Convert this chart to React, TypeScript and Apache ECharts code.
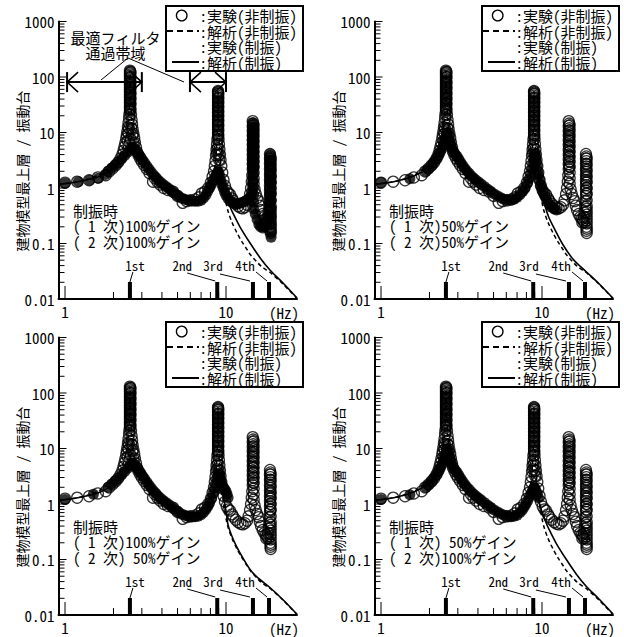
import React, { useEffect, useRef } from "react";
import * as echarts from "echarts";

type P = [number, number];
const col = (f: number, vals: number[]): P[] => vals.map((v) => [f, v] as P);

// ---------- axes ----------
const X_MIN = 0.911;
const X_MAX = 27.6;
const Y_MIN = 0.01;
const Y_MAX = 1000;
const X_TICK_LABELS = ["1", "10"];
const Y_TICK_LABELS = ["0.01", "0.1", "1", "10", "100", "1000"];
const X_MAJOR_TICKS = [1, 10];
const X_MINOR_TICKS = [2, 3, 4, 5, 6, 7, 8, 9];
const Y_MAJOR_TICKS = [0.01, 0.1, 1, 10, 100, 1000];
const Y_MINOR_TICKS = [
  0.02, 0.03, 0.04, 0.05, 0.06, 0.07, 0.08, 0.09,
  0.2, 0.3, 0.4, 0.5, 0.6, 0.7, 0.8, 0.9,
  2, 3, 4, 5, 6, 7, 8, 9,
  20, 30, 40, 50, 60, 70, 80, 90,
  200, 300, 400, 500, 600, 700, 800, 900,
];

// ---------- natural frequencies ----------
const MODE_FREQS = [2.53, 8.82, 14.7, 18.5];
const MODE_LABELS = ["1st", "2nd", "3rd", "4th"];

// ---------- optimal filter pass bands (panel 1) ----------
const BANDS = [
  [1.03, 3.0],
  [5.97, 10.0],
];
const BAND_LEVEL = 81;

// ---------- texts ----------
const LEGEND_LABELS = ["実験(非制振)", "解析(非制振)", "実験(制振)", "解析(制振)"];
const Y_NAME = "建物模型最上層 / 振動台";
const CTRL_TITLE = "制振時";
const GAIN_TEXTS = [
  ["( 1 次)100%ゲイン", "( 2 次)100%ゲイン"],
  ["( 1 次)50%ゲイン", "( 2 次)50%ゲイン"],
  ["( 1 次)100%ゲイン", "( 2 次) 50%ゲイン"],
  ["( 1 次) 50%ゲイン", "( 2 次)100%ゲイン"],
];
const BAND_TEXT = ["最適フィルタ", "通過帯域"];

// ---------- experiment, uncontrolled (open circles) ----------
const UNCTRL_EXP: P[] = [
  [1.0, 1.25], [1.19, 1.3], [1.41, 1.38], [1.6, 1.55], [1.79, 1.7], [1.88, 1.99], [1.97, 2.25],
  [2.06, 2.55], [2.14, 2.9], [2.21, 3.4], [2.27, 4.0], [2.31, 4.7],
  [2.34, 5.5], [2.37, 6.5], [2.4, 7.8], [2.42, 9], [2.44, 10.5], [2.46, 12.5], [2.48, 15], [2.5, 18],
  [2.51, 21], [2.45, 7], [2.48, 9.5], [2.5, 12],
  ...col(2.53, [24, 27, 30, 34, 38, 43, 48, 54, 60, 67, 75, 84, 94, 105, 117, 130]),
  ...col(2.54, [25.5, 28.5, 32, 36, 40.5, 45.5, 51, 57, 63.5, 71, 79.5, 89, 99.5, 111, 124]),
  ...col(2.55, [122, 100, 80, 64, 51, 41, 33, 26]),
  [2.57, 21], [2.59, 17], [2.61, 14], [2.63, 11.5], [2.66, 9.5], [2.69, 8], [2.72, 6.6], [2.76, 5.4],
  [2.8, 4.5], [2.58, 12], [2.62, 9], [2.56, 7.5], [2.66, 6.5],
  [2.86, 3.9], [2.93, 3.4], [3.0, 3.0], [3.1, 2.6], [3.22, 2.2], [3.35, 1.85], [3.52, 1.3], [3.62, 1.5],
  [3.75, 1.3], [3.9, 1.15], [4.1, 1.0], [4.35, 0.92], [4.69, 0.86], [5.0, 0.72], [5.38, 0.54], [5.7, 0.58],
  [6.05, 0.6], [6.45, 0.62], [6.8, 0.68], [7.07, 0.8], [7.4, 0.86], [7.75, 1.0], [8.05, 1.25], [8.25, 1.6],
  [8.42, 2.0], [8.52, 2.5], [8.6, 3.1], [8.67, 3.9], [8.73, 4.9], [8.79, 6.1], [8.84, 7.5], [8.8, 4.2], [8.86, 5.2],
  ...col(8.92, [8.5, 9.8, 11.3, 13, 15, 17.3, 20, 23, 26.5, 30.5, 35, 40, 46, 52, 56]),
  ...col(8.93, [9.1, 10.5, 12.1, 14, 16.1, 18.6, 21.5, 24.7, 28.4, 32.7, 37.5, 43, 49, 54]),
  ...col(8.95, [50, 42, 35, 29, 24, 20, 16.5, 13.5, 11, 9]),
  [8.99, 7.6], [9.04, 6.2], [9.1, 5.0], [9.17, 4.0], [9.25, 3.2], [9.35, 2.5], [9.0, 4.0], [9.06, 3.2],
  [9.48, 1.9], [9.65, 1.4], [9.85, 1.1], [10.1, 0.9], [10.35, 0.8], [10.6, 0.76], [10.9, 0.65], [11.1, 0.59],
  [11.5, 0.52], [11.9, 0.47], [12.3, 0.44], [12.7, 0.43], [13.1, 0.45], [13.5, 0.5], [13.8, 0.6], [14.1, 0.78],
  [14.3, 1.0], [14.45, 1.3], [14.55, 1.7],
  ...col(14.65, [2.2, 2.7, 3.3, 4.0, 4.9, 6.0, 7.3, 8.9, 10.8, 13.1, 16]),
  ...col(14.75, [2.45, 3.0, 3.65, 4.45, 5.4, 6.6, 8.1, 9.8, 11.9, 14.5]),
  ...col(14.85, [13.5, 11, 8.8, 7.1, 5.7, 4.6, 3.7, 3.0, 2.4, 1.9, 1.5, 1.2]),
  [15.05, 0.95], [15.3, 0.78], [15.6, 0.66], [15.95, 0.58], [16.2, 0.48], [16.5, 0.4], [16.9, 0.34], [17.3, 0.3],
  [17.7, 0.28], [18.0, 0.26], [18.2, 0.3], [18.4, 0.36], [17.8, 0.24], [18.3, 0.24], [18.55, 0.45], [18.65, 0.58],
  ...col(18.75, [0.72, 0.9, 1.12, 1.4, 1.75, 2.2, 2.75, 3.4, 4.1]),
  ...col(18.85, [0.8, 1.0, 1.25, 1.55, 1.95, 2.45, 3.05, 3.7]),
  ...col(18.95, [3.4, 2.7, 2.1, 1.65, 1.3, 1.0, 0.78, 0.6, 0.47, 0.37, 0.29, 0.23, 0.185, 0.155]),
  ...col(18.9, [0.42, 0.33, 0.26, 0.2, 0.17]),
];

// ---------- experiment, controlled (filled circles), one per panel ----------
const CTRL_EXP_1: P[] = [
  [1.0, 1.22], [1.21, 1.3], [1.42, 1.38], [1.61, 1.5], [1.78, 1.75], [1.85, 2.0], [1.95, 2.3], [2.05, 2.6],
  [2.15, 2.95], [2.25, 3.35], [2.35, 3.85], [2.45, 4.4], [2.53, 4.9], [2.6, 5.3], [2.66, 5.4], [2.72, 5.0],
  [2.8, 4.5], [2.87, 4.0], [2.95, 3.6], [3.03, 3.2], [3.12, 2.85], [3.22, 2.5], [3.32, 2.2], [3.43, 1.95],
  [3.55, 1.72], [3.67, 1.55], [3.8, 1.38], [3.94, 1.25], [4.08, 1.15], [4.24, 1.06], [4.4, 0.98], [4.57, 0.9],
  [4.75, 0.82], [4.95, 0.75], [5.15, 0.69], [5.35, 0.65], [5.6, 0.62], [5.85, 0.6], [6.1, 0.59], [6.4, 0.58],
  [6.7, 0.58], [7.0, 0.6], [7.25, 0.66], [7.5, 0.75], [7.7, 0.87], [7.9, 1.0], [8.1, 1.15], [8.3, 1.35],
  [8.5, 1.55], [8.7, 1.75], [8.85, 1.9], [8.95, 2.0], [9.05, 1.85], [9.15, 1.6], [9.3, 1.35], [9.45, 1.15],
  [9.6, 1.0], [9.8, 0.85], [10.0, 0.74], [10.3, 0.65], [10.6, 0.58], [11.0, 0.54], [11.4, 0.52], [11.8, 0.52],
  [12.2, 0.53], [12.6, 0.55], [13.0, 0.57], [13.4, 0.6], [13.8, 0.63], [14.1, 0.68], [14.4, 0.8],
  ...col(14.62, [1.0, 1.3, 1.7, 2.2, 2.8, 3.6, 4.6, 5.9, 7.5, 9.5, 12, 15]),
  ...col(14.85, [12.5, 9.5, 7.2, 5.5, 4.2, 3.2, 2.4, 1.8, 1.35, 1.0, 0.75, 0.56, 0.42]),
  [15.2, 0.34], [15.6, 0.27], [16.0, 0.22], [16.4, 0.2], [16.9, 0.19], [17.4, 0.2], [17.9, 0.24], [18.3, 0.32],
  [18.6, 0.42],
  ...col(18.8, [0.55, 0.72, 0.95, 1.3, 1.8, 2.4, 3.2, 4.1]),
  ...col(19.05, [3.2, 2.3, 1.65, 1.2, 0.85, 0.6, 0.43, 0.31, 0.22, 0.16, 0.13]),
];
const CTRL_EXP_2: P[] = [
  [1.0, 1.25], [1.51, 1.47], [1.9, 2.0], [1.97, 2.2], [2.05, 2.5], [2.12, 2.85], [2.2, 3.3], [2.27, 3.8],
  [2.33, 4.4], [2.39, 5.1], [2.44, 6.0], [2.48, 7.0], [2.52, 8.2], [2.55, 9.4], [2.58, 9.8], [2.61, 8.8],
  [2.64, 7.6], [2.68, 6.6], [2.72, 5.7], [2.77, 5.0], [2.83, 4.4], [2.9, 4.0], [2.97, 3.7], [3.04, 3.3],
  [3.12, 2.9], [3.2, 2.6], [3.3, 2.3], [3.4, 2.05], [3.52, 1.85], [3.64, 1.65], [3.77, 1.5], [3.9, 1.38],
  [4.05, 1.27], [4.2, 1.17], [4.4, 1.05], [4.6, 0.95], [4.82, 0.86], [5.05, 0.78], [5.3, 0.72], [5.55, 0.67],
  [5.8, 0.63], [6.1, 0.61], [6.4, 0.61], [6.7, 0.63], [7.0, 0.68], [7.3, 0.76], [7.6, 0.87], [7.85, 1.0],
  [8.1, 1.2], [8.3, 1.45], [8.5, 1.8], [8.65, 2.2], [8.78, 2.7], [8.88, 3.2], [8.96, 3.7], [9.04, 4.0],
  [9.12, 3.6], [9.2, 3.0], [9.3, 2.5], [9.4, 2.05], [9.52, 1.7], [9.65, 1.4], [9.8, 1.15], [9.95, 1.0],
  [10.15, 0.85], [10.4, 0.72], [10.65, 0.62], [10.9, 0.55], [11.2, 0.49], [11.5, 0.45], [11.9, 0.42], [12.3, 0.4],
];
const CTRL_EXP_3: P[] = [
  [1.0, 1.2], [1.5, 1.5], [1.85, 2.0], [1.95, 2.3], [2.05, 2.6], [2.15, 2.95], [2.25, 3.35], [2.35, 3.85],
  [2.45, 4.4], [2.53, 4.9], [2.6, 5.3], [2.66, 5.4], [2.72, 5.0], [2.8, 4.5], [2.87, 4.0], [2.95, 3.6],
  [3.03, 3.2], [3.12, 2.85], [3.22, 2.5], [3.32, 2.2], [3.43, 1.95], [3.55, 1.72], [3.67, 1.55], [3.8, 1.38],
  [3.94, 1.25], [4.08, 1.15], [4.24, 1.06], [4.4, 0.98], [4.57, 0.9], [4.75, 0.82], [4.95, 0.75], [5.15, 0.69],
  [5.35, 0.65], [5.6, 0.62], [5.85, 0.6], [6.1, 0.59], [6.4, 0.59], [6.7, 0.6], [7.0, 0.64], [7.25, 0.7],
  [7.5, 0.8], [7.7, 0.9], [7.9, 1.05], [8.1, 1.25], [8.3, 1.55], [8.5, 1.95], [8.65, 2.4], [8.78, 2.9],
  [8.9, 3.35], [9.0, 3.6], [9.1, 3.4], [9.2, 3.0], [9.3, 2.6], [9.4, 2.3], [9.5, 2.1], [9.6, 2.0],
  [9.72, 1.9], [9.86, 1.8], [10.0, 1.68], [10.15, 1.5], [10.3, 1.3],
];
const CTRL_EXP_4: P[] = [
  [1.0, 1.2], [1.51, 1.47], [1.9, 2.0], [1.97, 2.2], [2.05, 2.5], [2.12, 2.85], [2.2, 3.3], [2.27, 3.8],
  [2.33, 4.4], [2.39, 5.1], [2.44, 6.0], [2.48, 7.0], [2.52, 8.2], [2.55, 9.4], [2.58, 9.8], [2.61, 8.8],
  [2.64, 7.6], [2.68, 6.6], [2.72, 5.7], [2.77, 5.0], [2.83, 4.4], [2.9, 4.0], [2.97, 3.7], [3.04, 3.3],
  [3.12, 2.9], [3.2, 2.6], [3.3, 2.3], [3.4, 2.05], [3.52, 1.85], [3.64, 1.65], [3.77, 1.5], [3.9, 1.38],
  [4.05, 1.27], [4.2, 1.17], [4.4, 1.05], [4.6, 0.95], [4.82, 0.86], [5.05, 0.78], [5.3, 0.72], [5.55, 0.67],
  [5.8, 0.63], [6.1, 0.6], [6.4, 0.59], [6.7, 0.6], [7.0, 0.63], [7.3, 0.7], [7.55, 0.78], [7.75, 0.88],
  [7.95, 1.0], [8.15, 1.15], [8.35, 1.35], [8.55, 1.55], [8.72, 1.75], [8.86, 1.9], [8.96, 2.0], [9.06, 1.9],
  [9.2, 1.7], [9.35, 1.5], [9.5, 1.3],
];

// ---------- analysis curves ----------
const UNCTRL_ANA: P[] = [
  [0.911, 1.18], [1, 1.2], [1.2, 1.3], [1.4, 1.45], [1.6, 1.7], [1.8, 2.05], [2.0, 2.7], [2.15, 3.5],
  [2.3, 5.5], [2.4, 9], [2.47, 16], [2.51, 35], [2.53, 130], [2.56, 40], [2.6, 16], [2.67, 8.5],
  [2.75, 5.5], [2.9, 3.4], [3.1, 2.3], [3.4, 1.6], [3.8, 1.15], [4.3, 0.88], [5.0, 0.7], [5.8, 0.62],
  [6.6, 0.64], [7.3, 0.75], [7.9, 1.05], [8.3, 1.6], [8.6, 3.0], [8.78, 7], [8.87, 20], [8.92, 55],
  [8.97, 20], [9.06, 7], [9.25, 2.8], [9.6, 1.15], [10.0, 0.55], [10.3, 0.38], [10.9, 0.24], [11.7, 0.155],
  [12.6, 0.106], [13.5, 0.078], [14.1, 0.064], [15.6, 0.046], [16.7, 0.038], [18.8, 0.03], [22.6, 0.0185],
  [27.6, 0.0102],
];
const CTRL_ANA_1: P[] = [
  [0.911, 1.18], [1, 1.2], [1.2, 1.3], [1.4, 1.42], [1.6, 1.58], [1.8, 1.85], [2.0, 2.25], [2.2, 2.9],
  [2.4, 3.9], [2.55, 4.9], [2.65, 5.3], [2.75, 4.9], [2.9, 3.9], [3.1, 2.9], [3.4, 2.0], [3.8, 1.4],
  [4.3, 1.02], [5.0, 0.76], [5.8, 0.62], [6.6, 0.6], [7.3, 0.68], [7.9, 0.92], [8.4, 1.35], [8.75, 1.8],
  [8.95, 2.0], [9.15, 1.75], [9.5, 1.2], [10.0, 0.72], [10.6, 0.46], [11.0, 0.36], [12.2, 0.2],
  [14.1, 0.102], [16.3, 0.055], [18.8, 0.033], [22.6, 0.0194], [27.6, 0.0104],
];
const CTRL_ANA_2: P[] = [
  [0.911, 1.18], [1, 1.2], [1.2, 1.3], [1.4, 1.45], [1.6, 1.65], [1.8, 1.95], [2.0, 2.45], [2.2, 3.3],
  [2.35, 4.6], [2.45, 6.3], [2.52, 8.3], [2.57, 9.8], [2.62, 8.6], [2.7, 6.3], [2.8, 4.7], [3.0, 3.2],
  [3.3, 2.1], [3.7, 1.45], [4.2, 1.05], [5.0, 0.76], [5.8, 0.63], [6.6, 0.62], [7.3, 0.72], [7.9, 1.0],
  [8.4, 1.6], [8.75, 2.7], [8.95, 3.7], [9.04, 4.0], [9.15, 3.5], [9.35, 2.4], [9.7, 1.3], [10.0, 0.85],
  [10.4, 0.5], [11.0, 0.3], [12.0, 0.18], [13.5, 0.095], [15.6, 0.052], [18.8, 0.031], [22.6, 0.0188],
  [27.6, 0.0103],
];
const CTRL_ANA_3: P[] = [
  [0.911, 1.18], [1, 1.2], [1.2, 1.3], [1.4, 1.42], [1.6, 1.58], [1.8, 1.85], [2.0, 2.25], [2.2, 2.9],
  [2.4, 3.9], [2.55, 4.9], [2.65, 5.3], [2.75, 4.9], [2.9, 3.9], [3.1, 2.9], [3.4, 2.0], [3.8, 1.4],
  [4.3, 1.02], [5.0, 0.76], [5.8, 0.62], [6.6, 0.6], [7.3, 0.68], [7.9, 0.98], [8.4, 1.5], [8.75, 2.6],
  [8.95, 3.5], [9.04, 3.7], [9.15, 3.3], [9.35, 2.3], [9.7, 1.25], [10.0, 0.75], [10.3, 0.42], [10.9, 0.26],
  [11.7, 0.165], [12.6, 0.112], [14.1, 0.066], [15.6, 0.048], [18.8, 0.031], [22.6, 0.0188], [27.6, 0.0103],
];
const CTRL_ANA_4: P[] = [
  [0.911, 1.18], [1, 1.2], [1.2, 1.3], [1.4, 1.45], [1.6, 1.65], [1.8, 1.95], [2.0, 2.45], [2.2, 3.3],
  [2.35, 4.6], [2.45, 6.3], [2.52, 8.3], [2.57, 9.8], [2.62, 8.6], [2.7, 6.3], [2.8, 4.7], [3.0, 3.2],
  [3.3, 2.1], [3.7, 1.45], [4.2, 1.05], [5.0, 0.76], [5.8, 0.63], [6.6, 0.62], [7.3, 0.72], [7.9, 0.92],
  [8.4, 1.35], [8.75, 1.8], [8.95, 2.0], [9.15, 1.75], [9.5, 1.2], [10.0, 0.72], [10.6, 0.46], [11.0, 0.36],
  [12.2, 0.2], [14.1, 0.102], [16.3, 0.055], [18.8, 0.033], [22.6, 0.0194], [27.6, 0.0104],
];

const CTRL_EXP = [CTRL_EXP_1, CTRL_EXP_2, CTRL_EXP_3, CTRL_EXP_4];
const CTRL_ANA = [CTRL_ANA_1, CTRL_ANA_2, CTRL_ANA_3, CTRL_ANA_4];

// ---------- layout / style ----------
const FONT = "'Noto Sans Mono CJK JP', 'Noto Sans CJK JP', sans-serif";
const PANEL_OFFSETS = [
  [0, 0],
  [316, 0],
  [0, 316],
  [316, 316],
];
const GRID = { left: 58.5, top: 21.5, width: 238.5, height: 277.5 };
// [label dx, label dy, leader x1, y1, x2, y2] relative to the bar top
const MODE_LABEL_GEOM = [
  [5, -17, 3, -10, 0, 0],
  [-35, -17, -30, -9, -2, -1],
  [-40, -17, -33, -8, -3, -1],
  [-24, -17, -13, -10, -2, -1],
];

function font(size: number) {
  return `${size}px ${FONT}`;
}

function txt(x: number, y: number, text: string, size: number, align = "left", extra: any = {}, lineHeight?: number) {
  return {
    type: "text",
    x,
    y,
    z: 100,
    ...extra,
    style: {
      text,
      fill: "#000",
      font: font(size),
      align,
      verticalAlign: "middle",
      textAlign: align,
      textVerticalAlign: "middle",
      ...(lineHeight ? { lineHeight } : {}),
    },
  };
}

function buildOption() {
  const grids: any[] = [];
  const xAxes: any[] = [];
  const yAxes: any[] = [];
  const series: any[] = [];
  const graphics: any[] = [];

  PANEL_OFFSETS.forEach(([ox, oy], g) => {
    grids.push({ left: GRID.left + ox, top: GRID.top + oy, width: GRID.width, height: GRID.height });
    xAxes.push({
      type: "log",
      logBase: 10,
      gridIndex: g,
      min: X_MIN,
      max: X_MAX,
      axisLine: { show: true, onZero: false, lineStyle: { color: "#000", width: 2 } },
      axisTick: { show: false },
      splitLine: { show: false },
      axisLabel: {
        color: "#000",
        fontSize: 15,
        fontFamily: FONT,
        margin: 5,
        formatter: (v: number) => {
          const e = Math.log10(v);
          const r = Math.round(e);
          return Math.abs(e - r) < 1e-6 && r >= 0 && r < X_TICK_LABELS.length ? X_TICK_LABELS[r] : "";
        },
      },
    });
    yAxes.push({
      type: "log",
      logBase: 10,
      gridIndex: g,
      min: Y_MIN,
      max: Y_MAX,
      axisLine: { show: true, onZero: false, lineStyle: { color: "#000", width: 2 } },
      axisTick: { show: false },
      splitLine: { show: false },
      axisLabel: {
        color: "#000",
        fontSize: 15,
        fontFamily: FONT,
        margin: 4,
        formatter: (v: number) => {
          const e = Math.log10(v);
          const r = Math.round(e);
          const i = r + 2;
          return Math.abs(e - r) < 1e-6 && i >= 0 && i < Y_TICK_LABELS.length ? Y_TICK_LABELS[i] : "";
        },
      },
    });

    const common = { xAxisIndex: g, yAxisIndex: g, silent: true };
    series.push({
      ...common,
      type: "line",
      name: LEGEND_LABELS[1],
      data: UNCTRL_ANA,
      showSymbol: false,
      smooth: 0.3,
      z: 1,
      lineStyle: { color: "#000", width: 1.5, type: [4, 3] },
    });
    series.push({
      ...common,
      type: "line",
      name: LEGEND_LABELS[3],
      data: CTRL_ANA[g],
      showSymbol: false,
      smooth: 0.3,
      z: 1,
      lineStyle: { color: "#000", width: 1.6 },
    });
    series.push({
      ...common,
      type: "scatter",
      name: LEGEND_LABELS[0],
      data: UNCTRL_EXP,
      symbol: "circle",
      symbolSize: 11,
      z: 2,
      itemStyle: { color: "rgba(255,255,255,0)", borderColor: "#000", borderWidth: 1.3 },
    });
    series.push({
      ...common,
      type: "scatter",
      name: LEGEND_LABELS[2],
      data: CTRL_EXP[g],
      symbol: "circle",
      symbolSize: 11,
      z: 3,
      itemStyle: { color: "#000" },
    });
    // y ticks (inside)
    series.push({
      ...common,
      type: "custom",
      z: 5,
      clip: false,
      data: [...Y_MAJOR_TICKS.map((v) => [X_MIN, v, 1]), ...Y_MINOR_TICKS.map((v) => [X_MIN, v, 0])],
      renderItem: (_p: any, api: any) => {
        const pt = api.coord([api.value(0), api.value(1)]);
        const len = api.value(2) ? 8 : 6;
        return {
          type: "line",
          shape: { x1: pt[0], y1: pt[1], x2: pt[0] + len, y2: pt[1] },
          style: { stroke: "#000", lineWidth: 1 },
        };
      },
    });
    // x ticks (inside)
    series.push({
      ...common,
      type: "custom",
      z: 5,
      clip: false,
      data: [...X_MAJOR_TICKS.map((v) => [v, Y_MIN, 1]), ...X_MINOR_TICKS.map((v) => [v, Y_MIN, 0])],
      renderItem: (_p: any, api: any) => {
        const pt = api.coord([api.value(0), api.value(1)]);
        const len = api.value(2) ? 13 : 7;
        return {
          type: "line",
          shape: { x1: pt[0], y1: pt[1], x2: pt[0], y2: pt[1] - len },
          style: { stroke: "#000", lineWidth: 1 },
        };
      },
    });
    // natural frequency markers
    series.push({
      ...common,
      type: "custom",
      z: 6,
      clip: false,
      data: MODE_FREQS.map((f, i) => [f, Y_MIN, i]),
      renderItem: (_p: any, api: any) => {
        const pt = api.coord([api.value(0), api.value(1)]);
        const i = api.value(2);
        const gm = MODE_LABEL_GEOM[i];
        const top = pt[1] - 17;
        return {
          type: "group",
          children: [
            { type: "rect", shape: { x: pt[0] - 2, y: top, width: 4, height: 17 }, style: { fill: "#000" } },
            {
              type: "line",
              shape: { x1: pt[0] + gm[2], y1: top + gm[3], x2: pt[0] + gm[4], y2: top + gm[5] },
              style: { stroke: "#000", lineWidth: 1 },
            },
            {
              type: "text",
              x: pt[0] + gm[0],
              y: top + gm[1],
              style: {
                text: MODE_LABELS[i],
                fill: "#000",
                font: font(13),
                align: "center",
                verticalAlign: "middle",
                textAlign: "center",
                textVerticalAlign: "middle",
              },
            },
          ],
        };
      },
    });
    if (g === 0) {
      series.push({
        ...common,
        type: "custom",
        z: 6,
        clip: false,
        data: BANDS.map((b) => [b[0], BAND_LEVEL, b[1]]),
        renderItem: (_p: any, api: any) => {
          const a = api.coord([api.value(0), api.value(1)]);
          const b = api.coord([api.value(2), api.value(1)]);
          const st = { stroke: "#000", lineWidth: 2, fill: "none" };
          return {
            type: "group",
            children: [
              { type: "line", shape: { x1: a[0], y1: a[1], x2: b[0], y2: b[1] }, style: st },
              { type: "line", shape: { x1: a[0], y1: a[1] - 10, x2: a[0], y2: a[1] + 10 }, style: st },
              { type: "line", shape: { x1: b[0], y1: b[1] - 10, x2: b[0], y2: b[1] + 10 }, style: st },
              {
                type: "polyline",
                shape: { points: [[a[0] + 11, a[1] - 10], [a[0], a[1]], [a[0] + 11, a[1] + 10]] },
                style: { stroke: "#000", lineWidth: 1.5, fill: "none" },
              },
              {
                type: "polyline",
                shape: { points: [[b[0] - 11, b[1] - 10], [b[0], b[1]], [b[0] - 11, b[1] + 10]] },
                style: { stroke: "#000", lineWidth: 1.5, fill: "none" },
              },
            ],
          };
        },
      });
    }

    // ---- graphics: legend, texts ----
    const lx = 166 + ox;
    const ly = 6 + oy;
    const rows = [15.5, 31, 46.5, 62].map((r) => r + oy);
    graphics.push({
      type: "rect",
      z: 99,
      shape: { x: lx, y: ly, width: 137, height: 65 },
      style: { fill: "#fff", stroke: "#000", lineWidth: 2 },
    });
    graphics.push({
      type: "circle",
      z: 100,
      shape: { cx: 181.7 + ox, cy: rows[0], r: 5.3 },
      style: { fill: "#fff", stroke: "#000", lineWidth: 1.3 },
    });
    graphics.push({
      type: "line",
      z: 100,
      shape: { x1: 167 + ox, y1: rows[1], x2: 199 + ox, y2: rows[1] },
      style: { stroke: "#000", lineWidth: 2, lineDash: [6, 4] },
    });
    graphics.push({
      type: "line",
      z: 100,
      shape: { x1: 172 + ox, y1: rows[3], x2: 199 + ox, y2: rows[3] },
      style: { stroke: "#000", lineWidth: 2 },
    });
    graphics.push(
      txt(199.5 + ox, (rows[0] + rows[3]) / 2, LEGEND_LABELS.map((l) => ":" + l).join("\n"), 15, "left", {}, 15.5)
    );
    graphics.push(txt(21.5 + ox, 171 + oy, Y_NAME, 14, "center", { rotation: Math.PI / 2 }));
    graphics.push(txt(284 + ox, 312 + oy, "(Hz)", 15, "center"));
    graphics.push(
      txt(73 + ox, 225.5 + oy, [CTRL_TITLE, GAIN_TEXTS[g][0], GAIN_TEXTS[g][1]].join("\n"), 15, "left", {}, 15.5)
    );
    if (g === 0) {
      graphics.push(txt(115.5 + ox, 44.75 + oy, BAND_TEXT.join("\n"), 15, "center", {}, 14.5));
      graphics.push({
        type: "polyline",
        z: 100,
        shape: { points: [[101, 80], [128, 58], [184, 82]] },
        style: { stroke: "#000", lineWidth: 1, fill: "none" },
      });
    }
  });

  return {
    animation: false,
    backgroundColor: "#fff",
    textStyle: { fontFamily: FONT },
    grid: grids,
    xAxis: xAxes,
    yAxis: yAxes,
    series,
    graphic: graphics,
  };
}

export default function App() {
  const ref = useRef<HTMLDivElement>(null);
  useEffect(() => {
    if (!ref.current) return;
    const chart = echarts.init(ref.current, undefined, { renderer: "svg" });
    chart.setOption(buildOption() as any);
    return () => chart.dispose();
  }, []);
  return (
    <div
      ref={ref}
      style={{ position: "absolute", left: 0, top: 0, width: 624, height: 637, background: "#fff" }}
    />
  );
}
